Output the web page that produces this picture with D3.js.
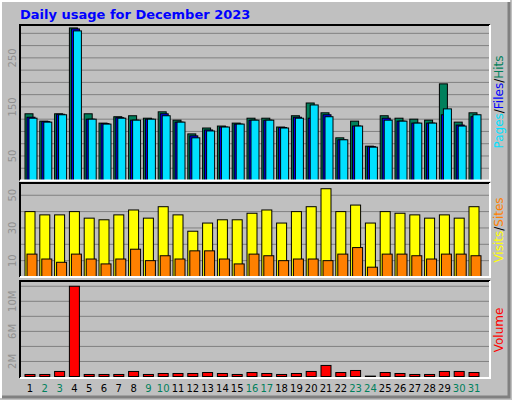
<!DOCTYPE html>
<html><head><meta charset="utf-8">
<script src="https://cdn.jsdelivr.net/npm/d3@7"></script>
<style>body{margin:0;background:#fff}</style>
</head><body><div id="chart"></div>
<script>
const days = d3.range(1, 32);
const weekend = [2, 3, 9, 10, 16, 17, 23, 24, 30, 31];
const hits  = [136,121,136,311,136,117,130,132,127,140,123,95,107,111,117,127,127,109,132,158,138,87,121,70,132,127,125,123,197,119,138];
const files = [129,120,135,309,125,116,128,123,125,136,119,91,103,109,115,123,123,108,129,127,134,83,111,69,127,121,117,117,134,113,130];
const pages = [127,119,134,305,125,115,127,123,125,132,119,87,101,109,115,123,123,107,127,154,130,83,111,68,123,121,117,117,146,111,134];
const visits = [40,38,38,40,36,35,38,41,36,43,38,28,33,35,35,39,41,33,40,43,54,40,44,33,40,39,38,36,38,36,43];
const sites  = [14,11,9,14,11,8,11,17,10,13,11,16,16,11,8,14,13,10,11,11,10,14,18,6,14,14,13,11,14,14,13];
const volume = [0.27,0.27,0.67,12,0.27,0.27,0.27,0.67,0.27,0.4,0.4,0.4,0.53,0.4,0.27,0.53,0.4,0.27,0.4,0.67,1.47,0.53,0.8,0.05,0.53,0.4,0.27,0.27,0.67,0.67,0.53];

const W = 512, H = 400;
let svg = d3.select("#chart").append("svg").attr("width", W).attr("height", H)
    .style("font-family", "DejaVu Sans");

// outer frame
svg.append("rect").attr("x", 0).attr("y", 0).attr("width", W).attr("height", H).attr("fill", "#c0c0c0");
svg.append("path").attr("d", "M1,398V1H510").attr("stroke", "#fff").attr("stroke-width", 2).attr("fill", "none");
svg.append("path").attr("d", "M2,397H509V2").attr("stroke", "#808080").attr("stroke-width", 3).attr("fill", "none");

svg.append("text").attr("x", 20).attr("y", 19).attr("fill", "#0000ff")
    .attr("font-weight", "bold").attr("font-size", 13).text("Daily usage for December 2023");

const left = 20, right = 490;
const x = d3.scaleLinear().domain([1, 31]).range([25, 469]);

function panel(top, bottom, max, gridStep, labels, fmt) {
    let y = d3.scaleLinear().domain([0, max]).range([bottom, top]);
    svg.append("rect").attr("x", left).attr("y", top).attr("width", right - left)
        .attr("height", bottom - top).attr("fill", "#c0c0c0");
    svg.append("g").selectAll("line").data(d3.range(gridStep, max, gridStep)).enter().append("line")
        .attr("x1", left).attr("x2", right).attr("y1", d => y(d)).attr("y2", d => y(d))
        .attr("stroke", "#808080").attr("stroke-width", 1);
    svg.append("g").selectAll("text").data(labels).enter().append("text")
        .attr("transform", d => `translate(16,${y(d)}) rotate(-90)`)
        .attr("text-anchor", "middle").attr("font-size", 10).attr("fill", "#909090").text(fmt);
    return y;
}
function frame(top, bottom) {
    svg.append("path").attr("d", `M${left},${bottom}V${top}H${right}`).attr("stroke", "#000").attr("stroke-width", 2).attr("fill", "none");
    svg.append("path").attr("d", `M${left},${bottom}H${right}V${top}`).attr("stroke", "#fff").attr("stroke-width", 2).attr("fill", "none");
}
function bars(y, data, dx, w, color) {
    svg.append("g").selectAll("rect").data(data).enter().append("rect")
        .attr("x", (d, i) => x(days[i]) + dx).attr("y", d => y(d))
        .attr("width", w).attr("height", d => y(0) - y(d))
        .attr("fill", color).attr("stroke", "#000").attr("stroke-width", 1);
}
function sideLabel(yc, parts) {
    let t = svg.append("text").attr("transform", `translate(503,${yc}) rotate(-90)`)
        .attr("text-anchor", "middle").attr("font-size", 12);
    parts.forEach(p => t.append("tspan").attr("fill", p[1]).text(p[0]));
}

// hits / files / pages
let y1 = panel(25, 180.5, 317, 25, [50, 150, 250], d => d);
bars(y1, hits, 0, 8, "#00805c");
bars(y1, files, 2, 8, "#0000ff");
bars(y1, pages, 4, 8, "#00e0ff");
frame(25, 180.5);
sideLabel(102, [["Pages", "#00e0ff"], ["/", "#000"], ["Files", "#0000ff"], ["/", "#000"], ["Hits", "#00805c"]]);

// visits / sites
let y2 = panel(183, 277, 57.5, 10, [10, 30, 50], d => d);
bars(y2, visits, 0, 10, "#ffff00");
bars(y2, sites, 2, 10, "#ff8000");
frame(183, 277);
sideLabel(230, [["Visits", "#ffff00"], ["/", "#000"], ["Sites", "#ff8000"]]);

// volume
let y3 = panel(281, 376.5, 12.7, 2, [2, 6, 10], d => d + "M");
bars(y3, volume, 0, 10, "#ff0000");
frame(281, 378);
sideLabel(330, [["Volume", "#ff0000"]]);

svg.append("g").selectAll("text").data(days).enter().append("text")
    .attr("x", d => x(d) + 5).attr("y", 392).attr("text-anchor", "middle").attr("font-size", 10)
    .attr("fill", d => weekend.includes(d) ? "#00805c" : "#000").text(d => d);
</script></body></html>
